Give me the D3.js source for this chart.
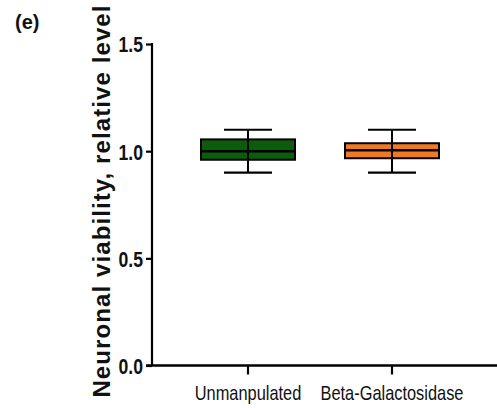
<!DOCTYPE html>
<html>
<head>
<meta charset="utf-8">
<script src="https://cdn.jsdelivr.net/npm/d3@7"></script>
<style>
  body { margin: 0; background: #fff; }
  svg { display: block; }
</style>
</head>
<body>
<svg width="497" height="408"></svg>
<script>
// box summaries
var groups = ["Unmanpulated", "Beta-Galactosidase"];
var whiskerLow = [0.90, 0.90];
var q1 = [0.96, 0.967];
var median = [1.0, 1.004];
var q3 = [1.055, 1.037];
var whiskerHigh = [1.10, 1.10];
var boxColors = ["#0b5d0b", "#f07a22"];
var yTicks = [0, 0.5, 1.0, 1.5];

var svg = d3.select("svg");
var sans = "'Liberation Sans', Arial, sans-serif";

var y = d3.scaleLinear().domain([0, 1.5]).range([365.5, 44]);
var x = d3.scaleBand().domain(groups).range([152, 488]).paddingInner(0).paddingOuter(1 / 6);

var boxW = 94, capW = 48;
var squeeze = 0.8; // condensed look for the tick labels

// y axis
var yAxis = svg.append("g")
  .attr("transform", "translate(152,0)")
  .call(d3.axisLeft(y).tickValues(yTicks).tickFormat(d3.format(".1f")).tickSize(6).tickSizeOuter(0));
yAxis.select(".domain").attr("stroke", "#000").attr("stroke-width", 2.2)
  .attr("d", "M0," + y(0) + "V" + (y(1.5) - 1));
yAxis.selectAll(".tick line").attr("stroke", "#000").attr("stroke-width", 2.2);
yAxis.selectAll(".tick text")
  .attr("x", -9 / squeeze)
  .attr("dy", "0.36em")
  .attr("transform", "scale(" + squeeze + ",1)")
  .attr("fill", "#111")
  .style("font-family", sans)
  .style("font-size", "22px")
  .style("font-weight", "bold");

// x axis
var xAxis = svg.append("g")
  .attr("transform", "translate(0," + y(0) + ")")
  .call(d3.axisBottom(x).tickSize(9).tickSizeOuter(0));
xAxis.select(".domain").attr("stroke", "#000").attr("stroke-width", 2.4)
  .attr("d", "M146,0H497");
xAxis.selectAll(".tick line").attr("stroke", "#000").attr("stroke-width", 2.2);
xAxis.selectAll(".tick text")
  .attr("y", 20)
  .attr("transform", "scale(0.82,1)")
  .attr("fill", "#111")
  .style("font-family", sans)
  .style("font-size", "20px");

// boxes
var cx = function (i) { return x(groups[i]) + x.bandwidth() / 2; };

groups.forEach(function (g, i) {
  var c = cx(i);
  var box = svg.append("g");
  box.append("rect")
    .attr("x", c - boxW / 2)
    .attr("y", y(q3[i]))
    .attr("width", boxW)
    .attr("height", y(q1[i]) - y(q3[i]))
    .attr("fill", boxColors[i])
    .attr("stroke", "#000")
    .attr("stroke-width", 2);
  // whisker stem
  box.append("line")
    .attr("x1", c).attr("x2", c)
    .attr("y1", y(whiskerHigh[i])).attr("y2", y(whiskerLow[i]))
    .attr("stroke", "#000").attr("stroke-width", 2);
  // caps
  [whiskerHigh[i], whiskerLow[i]].forEach(function (v) {
    box.append("line")
      .attr("x1", c - capW / 2).attr("x2", c + capW / 2)
      .attr("y1", y(v)).attr("y2", y(v))
      .attr("stroke", "#000").attr("stroke-width", 2.2);
  });
  // median
  box.append("line")
    .attr("x1", c - boxW / 2).attr("x2", c + boxW / 2)
    .attr("y1", y(median[i])).attr("y2", y(median[i]))
    .attr("stroke", "#000").attr("stroke-width", 2.5);
});

// y title
svg.append("text")
  .attr("transform", "translate(110,201) rotate(-90)")
  .attr("text-anchor", "middle")
  .attr("fill", "#111")
  .style("font-family", sans)
  .style("font-size", "24px")
  .style("font-weight", "bold")
  .style("letter-spacing", "1.1px")
  .text("Neuronal viability, relative level");

// panel letter
svg.append("text")
  .attr("x", 15).attr("y", 29)
  .attr("fill", "#111")
  .style("font-family", sans)
  .style("font-size", "20px")
  .style("font-weight", "bold")
  .text("(e)");
</script>
</body>
</html>
